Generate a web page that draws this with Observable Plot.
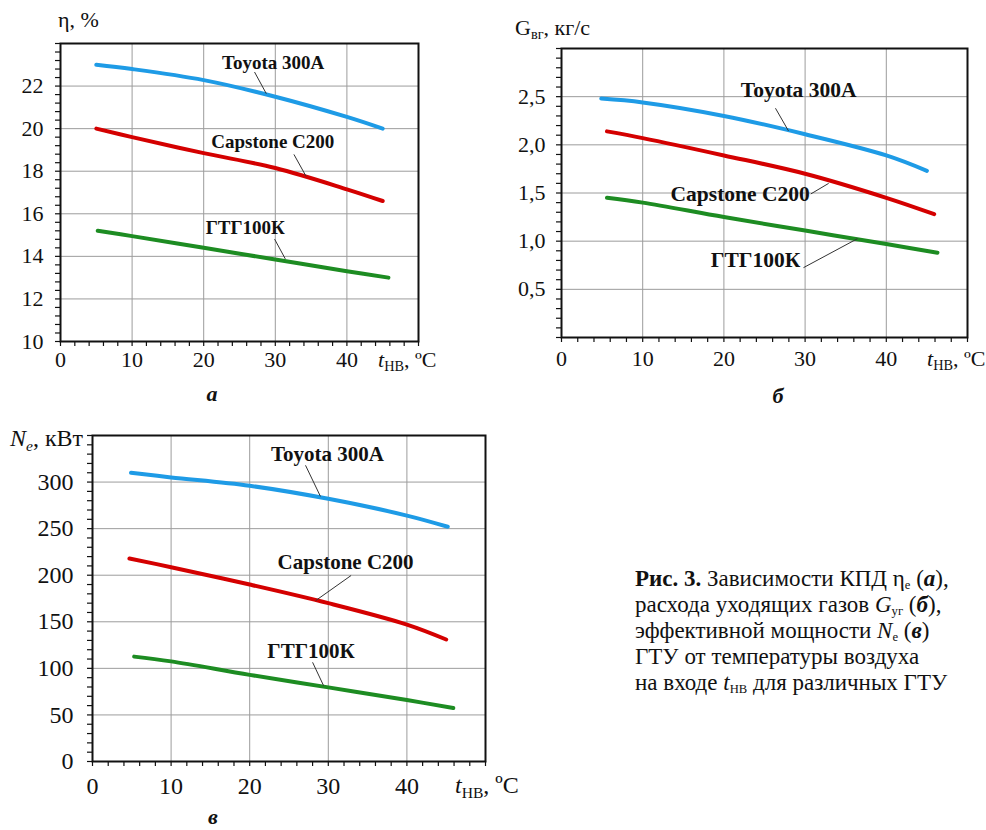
<!DOCTYPE html>
<html>
<head>
<meta charset="utf-8">
<script src="https://cdn.jsdelivr.net/npm/d3@7"></script>
<script src="https://cdn.jsdelivr.net/npm/@observablehq/plot@0.6"></script>
<style>
  html, body { margin: 0; padding: 0; background: #fff; }
  #root { position: relative; width: 986px; height: 830px; overflow: hidden; background: #fff;
          font-family: "Liberation Serif", "Times New Roman", serif; color: #111; }
  .panel { position: absolute; }
  .t { position: absolute; white-space: nowrap; line-height: 1; transform: translateY(-50%); }
  .t sub { font-size: 0.65em; vertical-align: -0.3em; line-height: 0; }
  .cap { position: absolute; left: 635px; top: 566px; font-size: 23px; line-height: 26px; white-space: nowrap; }
  .cap .ln { display: block; height: 26px; line-height: 26px; overflow: visible; }
  .cap sub { font-size: 0.55em; vertical-align: -0.2em; line-height: 0; }
</style>
</head>
<body>
<div id="root"></div>
<script>
// ---------- data ----------
const seriesNames = ["Toyota 300A", "Capstone C200", "ГТГ100К"];
const seriesColors = ["#1e9be6", "#d40000", "#1d8c22"];

// (а) efficiency η, %   [t, value]
const etaToyota   = [[5, 23.0], [10, 22.8], [20, 22.28], [30, 21.5], [40, 20.55], [45, 20.0]];
const etaCapstone = [[5, 20.0], [10, 19.6], [20, 18.85], [30, 18.15], [40, 17.15], [45, 16.6]];
const etaGTG      = [[5.2, 15.2], [10, 14.95], [20, 14.4], [30, 13.85], [40, 13.3], [45.8, 13.0]];

// (б) exhaust gas flow, кг/с
const gToyota   = [[4.9, 2.48], [10, 2.44], [20, 2.30], [30, 2.11], [40, 1.89], [45, 1.73]];
const gCapstone = [[5.6, 2.14], [10, 2.07], [20, 1.89], [30, 1.70], [40, 1.45], [45.9, 1.28]];
const gGTG      = [[5.6, 1.45], [10, 1.40], [20, 1.25], [30, 1.11], [40, 0.97], [46.3, 0.88]];

// (в) power Ne, кВт
const nToyota   = [[4.9, 310], [10, 305], [20, 296], [30, 282], [40, 264], [45.2, 252]];
const nCapstone = [[4.7, 218], [10, 208.6], [20, 190], [30, 170], [40, 147], [45.0, 131]];
const nGTG      = [[5.3, 112.6], [10, 107.5], [20, 93], [30, 79.6], [40, 66], [45.9, 57.4]];

// tick labels
const xTickLabels = [0, 10, 20, 30, 40];
const xGrid = [10, 20, 30, 40];
const xMinor = d3.range(0, 50.01, 2);
const etaTickLabels = [10, 12, 14, 16, 18, 20, 22];
const etaGrid = [12, 14, 16, 18, 20, 22];
const etaMinor = d3.range(0, 36).map(i => 10 + i * 0.4);
const gTickLabels = [0.5, 1.0, 1.5, 2.0, 2.5];
const gMinor = d3.range(0, 31).map(i => i / 10);
const nTickLabels = [0, 50, 100, 150, 200, 250, 300];
const nGrid = [50, 100, 150, 200, 250, 300];
const nMinor = d3.range(0, 351, 10);

// series label anchors and leader lines (data coordinates)
const etaLabels = [{x: 29.7, y: 23.1}, {x: 29.65, y: 19.39}, {x: 25.8, y: 15.33}];
const etaLeaders = [[27.1, 22.66, 28.75, 21.64], [32.6, 18.79, 34.3, 17.76], [29.9, 14.81, 31.4, 13.88]];
const gLabels = [{x: 29.2, y: 2.57}, {x: 22.0, y: 1.49}, {x: 23.9, y: 0.80}];
const gLeaders = [[26.35, 2.38, 27.95, 2.145], [30.7, 1.49, 32.9, 1.60], [29.8, 0.725, 36.45, 1.026]];
const nLabels = [{x: 29.9, y: 329.8}, {x: 32.2, y: 214}, {x: 27.8, y: 118.3}];
const nLeaders = [[27.1, 318, 29.0, 284.6], [32.9, 199.7, 28.4, 172.8], [28.0, 106.5, 29.4, 81.4]];

// ---------- helpers ----------
function rows(list) {
  return list.flatMap((pts, i) => pts.map(([x, y]) => ({series: seriesNames[i], x, y})));
}
function labelRows(list) { return list.map((d, i) => ({...d, name: seriesNames[i]})); }
function leaderRows(list) { return list.map(([x1, y1, x2, y2]) => ({x1, y1, x2, y2})); }

function panel(o) {
  return Plot.plot({
    width: o.width, height: o.height,
    marginLeft: o.ml, marginRight: o.mr, marginTop: o.mt, marginBottom: o.mb,
    style: {fontFamily: "Liberation Serif, serif", background: "transparent", color: "#111", overflow: "visible"},
    x: {domain: [0, 50], label: null},
    y: {domain: o.yDomain, label: null},
    color: {domain: seriesNames, range: seriesColors},
    marks: [
      Plot.gridX(xGrid, {stroke: "#9c9c9c", strokeOpacity: 1, strokeWidth: 1}),
      Plot.gridY(o.yGrid, {stroke: "#9c9c9c", strokeOpacity: 1, strokeWidth: 1}),
      Plot.axisX(xMinor, {tickSize: 5, tickFormat: () => "", strokeWidth: 1.2, label: null}),
      Plot.axisX(xTickLabels, {tickSize: 0, tickPadding: o.xPad, fontSize: o.tickFont, label: null}),
      Plot.axisY(o.yMinor, {tickSize: 5, tickFormat: () => "", strokeWidth: 1.2, label: null}),
      Plot.axisY(o.yTicks, {tickSize: 0, tickPadding: o.yPad, fontSize: o.tickFont, tickFormat: o.fmt, label: null}),
      Plot.frame({stroke: "#111", strokeWidth: 2}),
      Plot.line(rows(o.series), {x: "x", y: "y", z: "series", stroke: "series", strokeWidth: 4, curve: "catmull-rom"}),
      Plot.link(leaderRows(o.leaders), {x1: "x1", y1: "y1", x2: "x2", y2: "y2", stroke: "#333", strokeWidth: 1}),
      Plot.text(labelRows(o.labels), {x: "x", y: "y", text: "name", fontWeight: "bold", fontSize: o.labelFont,
        fontFamily: "Liberation Serif, serif", fill: "#111"})
    ]
  });
}

const root = document.getElementById("root");
function place(node, left, top) {
  node.classList.add("panel");
  node.style.left = left + "px";
  node.style.top = top + "px";
  root.appendChild(node);
}
function text(html, left, cy, size, extra) {
  const d = document.createElement("div");
  d.className = "t";
  d.innerHTML = html;
  d.style.left = left + "px";
  d.style.top = cy + "px";
  d.style.fontSize = size + "px";
  if (extra) Object.assign(d.style, extra);
  root.appendChild(d);
}

// (а)
place(panel({
  width: 440, height: 410, ml: 60, mr: 22, mt: 43, mb: 69,
  yDomain: [10, 24], yGrid: etaGrid, yTicks: etaTickLabels, yMinor: etaMinor,
  fmt: d => String(d), xPad: 10, yPad: 17, tickFont: 22, labelFont: 19,
  series: [etaToyota, etaCapstone, etaGTG], labels: etaLabels, leaders: etaLeaders
}), 0, 0);

// (б)
place(panel({
  width: 506, height: 410, ml: 81, mr: 19, mt: 48, mb: 73,
  yDomain: [0, 3], yGrid: gTickLabels, yTicks: gTickLabels, yMinor: gMinor,
  fmt: d => d.toFixed(1).replace(".", ","), xPad: 13, yPad: 16, tickFont: 22, labelFont: 21.5,
  series: [gToyota, gCapstone, gGTG], labels: gLabels, leaders: gLeaders
}), 480, 0);

// (в)
place(panel({
  width: 500, height: 420, ml: 92, mr: 15, mt: 25, mb: 69,
  yDomain: [0, 350], yGrid: nGrid, yTicks: nTickLabels, yMinor: nMinor,
  fmt: d => String(d), xPad: 15, yPad: 19, tickFont: 24, labelFont: 21,
  series: [nToyota, nCapstone, nGTG], labels: nLabels, leaders: nLeaders
}), 0, 410);

// axis titles
text("η, %", 58, 20, 22);
text("G<sub>вг</sub>, кг/с", 515, 28, 22);
text("<i>N<sub>e</sub></i>, кВт", 10, 438, 24);
text("<i>t</i><sub>НВ</sub>, ºC", 378, 360, 22);
text("<i>t</i><sub>НВ</sub>, ºC", 927, 359, 22);
text("<i>t</i><sub>НВ</sub>, ºC", 455, 785, 24);

// panel letters
text("<b><i>а</i></b>", 212, 394, 22, {transform: "translate(-50%,-50%)"});
text("<b><i>б</i></b>", 778, 396, 22, {transform: "translate(-50%,-50%)"});
text("<b><i>в</i></b>", 213, 817, 22, {transform: "translate(-50%,-50%)"});

// caption
const captionLines = [
  "<b>Рис. 3.</b> Зависимости КПД η<sub>e</sub> (<b><i>а</i></b>),",
  "расхода уходящих газов <i>G</i><sub>уг</sub> (<b><i>б</i></b>),",
  "эффективной мощности <i>N</i><sub>e</sub> (<b><i>в</i></b>)",
  "ГТУ от температуры воздуха",
  "на входе <i>t</i><sub>НВ</sub> для различных ГТУ"
];
const cap = document.createElement("div");
cap.className = "cap";
cap.innerHTML = captionLines.map(l => `<span class="ln">${l}</span>`).join("");
root.appendChild(cap);
</script>
</body>
</html>
